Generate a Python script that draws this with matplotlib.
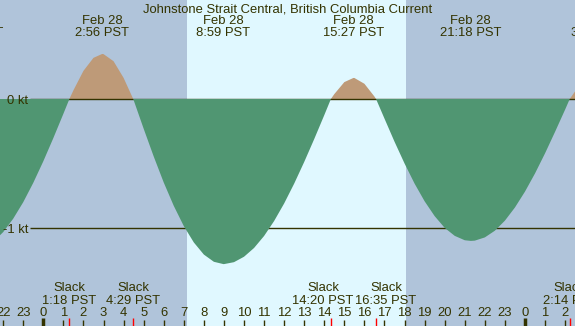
import matplotlib
matplotlib.use("Agg")
import numpy as np
import matplotlib.pyplot as plt

# Время (часы от полуночи 28 фев) и скорость течения, узлы
times = [-2.5, -2.0, -1.5, -1.0, -0.5, 0.0, 0.5, 1.0, 1.3, 1.5, 2.0, 2.5, 2.93, 3.0, 3.5, 4.0, 4.48,
         4.5, 5.0, 5.5, 6.0, 6.5, 7.0, 7.5, 8.0, 8.5, 8.98, 9.0, 9.5, 10.0, 10.5, 11.0, 11.5, 12.0,
         12.5, 13.0, 13.5, 14.0, 14.33, 14.5, 15.0, 15.45, 15.5, 16.0, 16.5, 16.58, 17.0, 17.5, 18.0,
         18.5, 19.0, 19.5, 20.0, 20.5, 21.0, 21.3, 21.5, 22.0, 22.5, 23.0, 23.5, 24.0, 24.5, 25.0,
         25.5, 26.0, 26.23, 26.5]
speeds = [-1.108, -1.032, -0.928, -0.800, -0.650, -0.483, -0.303, -0.115, 0.0, 0.067, 0.218, 0.319,
          0.349, 0.348, 0.293, 0.164, 0.0, -0.008, -0.230, -0.445, -0.647, -0.828, -0.985, -1.112,
          -1.206, -1.262, -1.280, -1.280, -1.265, -1.223, -1.155, -1.062, -0.946, -0.810, -0.656,
          -0.488, -0.310, -0.125, 0.0, 0.038, 0.131, 0.163, 0.163, 0.118, 0.019, 0.0, -0.152, -0.331,
          -0.500, -0.656, -0.793, -0.908, -0.999, -1.061, -1.095, -1.100, -1.098, -1.073, -1.021,
          -0.943, -0.841, -0.718, -0.577, -0.421, -0.254, -0.082, 0.0, 0.06]

# Экстремумы (подписи сверху)
peak_times = [-3.5, 2.93, 8.98, 15.45, 21.3, 27.64]
peak_dates = ["Feb 27", "Feb 28", "Feb 28", "Feb 28", "Feb 28", "Feb 29"]
peak_labels = ["20:30 PST", "2:56 PST", "8:59 PST", "15:27 PST", "21:18 PST", "3:38 PST"]

# Смена течения (подписи снизу)
slack_times = [1.3, 4.483, 14.333, 16.583, 26.233]
slack_labels = ["1:18 PST", "4:29 PST", "14:20 PST", "16:35 PST", "2:14 PST"]
slack_shift = [0, 0, -8, 10, 0]   # сдвиг подписи, px, чтобы не наезжали

hours = list(range(-2, 27))
sunrise, sunset = 7.16, 18.07
levels = [0, -1]
level_labels = ["0 kt", "-1 kt"]

title = "Johnstone Strait Central, British Columbia Current"

night = "#b0c4da"
day = "#e0f8ff"
ebb_col = "#509672"
flood_col = "#be9a78"
ink = "#333300"

plt.rcParams['font.family'] = ['Liberation Sans', 'DejaVu Sans']
fs = 9.4

W, H = 575, 326
PX = 20.07  # пикселей на час
fig = plt.figure(figsize=(W / 100, H / 100), dpi=100, facecolor=night)
ax = fig.add_axes([0, 0, 1, 1])
ax.set_xlim(-43.3 / PX, (W - 43.3) / PX)
ax.set_ylim(-(H - 99) / 129, 99 / 129)
ax.axis('off')

ax.axvspan(sunrise, sunset, color=day, lw=0, zorder=0)

t = np.array(times)
v = np.array(speeds)
ax.fill_between(t, v, 0, where=v >= 0, interpolate=True, color=flood_col, lw=0, zorder=1)

# линии уровней (под зелёной заливкой)
x0 = ax.get_xlim()[0] + 30 / PX
for lv, lab in zip(levels, level_labels):
    ax.hlines(lv, x0, ax.get_xlim()[1], color=ink, lw=1, zorder=2)
    ax.text(x0 - 1.7 / PX, lv - 5 / 129, lab, ha='right', va='baseline',
            fontsize=fs, color=ink, zorder=5)

ax.fill_between(t, v, 0, where=v <= 0, interpolate=True, color=ebb_col, lw=0, zorder=3)

xt = ax.get_xaxis_transform()
ax.text(0.5, 1 - 12.3 / H, title, transform=ax.transAxes, ha='center', va='baseline',
        fontsize=fs, color=ink)

for pt, d, lab in zip(peak_times, peak_dates, peak_labels):
    ax.text(pt, 1 - 24 / H, d, transform=xt, ha='center', va='baseline', fontsize=fs, color=ink)
    ax.text(pt, 1 - 35.7 / H, lab, transform=xt, ha='center', va='baseline', fontsize=fs, color=ink)

for st, lab, sh in zip(slack_times, slack_labels, slack_shift):
    xl = st + sh / PX
    ax.text(xl, 1 - 291.3 / H, "Slack", transform=xt, ha='center', va='baseline', fontsize=fs, color=ink)
    ax.text(xl, 1 - 303.7 / H, lab, transform=xt, ha='center', va='baseline', fontsize=fs, color=ink)
    ax.vlines(st, 0, 8 / H, transform=xt, color='red', lw=1, zorder=6)

for h in hours:
    ax.text(h, 1 - 315.7 / H, str(h % 24), transform=xt, ha='center', va='baseline',
            fontsize=fs, color=ink)
    if h % 24 == 0:
        ax.vlines(h, 0, 8 / H, transform=xt, color=ink, lw=2.5, zorder=6)
    else:
        ax.vlines(h, 0, 6 / H, transform=xt, color=ink, lw=1, zorder=6)

fig.savefig("out.png", dpi=100, facecolor=night)
